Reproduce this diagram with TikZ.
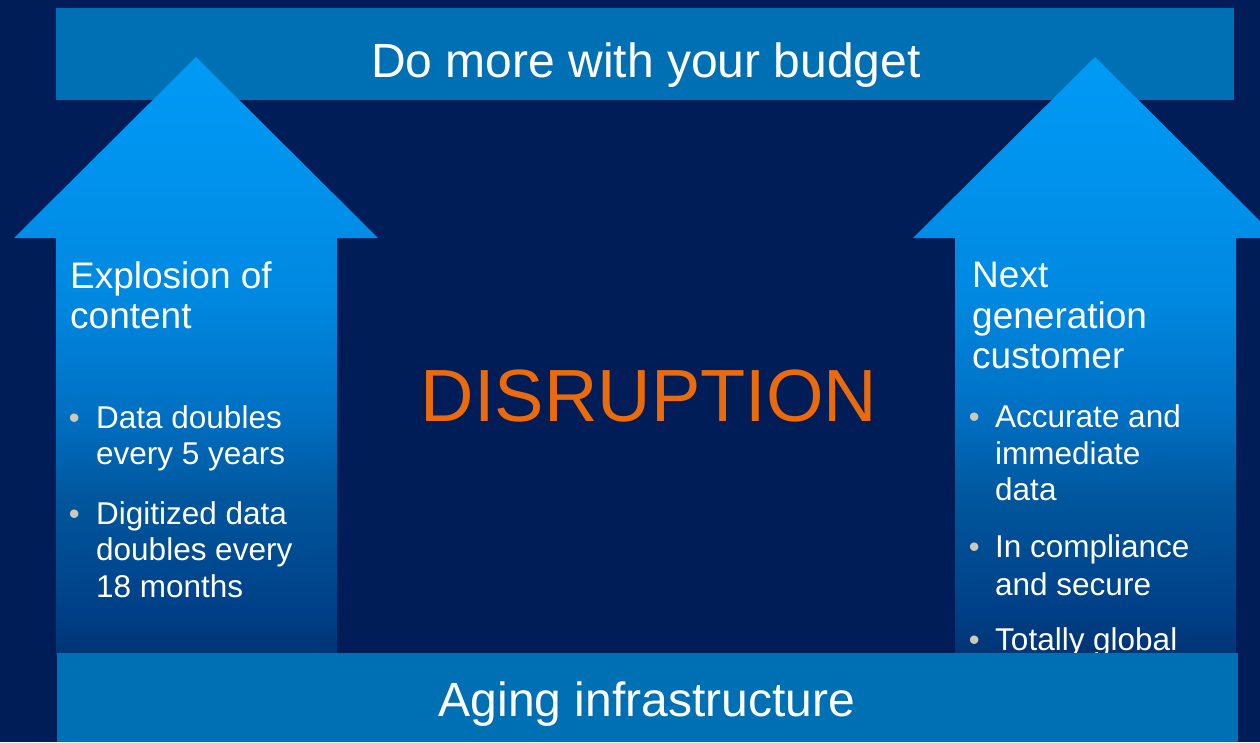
\documentclass[tikz,border=0pt]{standalone}
\usepackage{fontspec}
\setmainfont{Liberation Sans}
\definecolor{navy}{HTML}{001D57}
\definecolor{barblue}{HTML}{0070B4}
\definecolor{disrupt}{HTML}{EA6A0C}
\definecolor{dotgray}{HTML}{CCC8BB}
% arrow fill, from the foot (dark) up to the tip (bright)
\definecolor{af1}{HTML}{003474}
\definecolor{af2}{HTML}{00428A}
\definecolor{af3}{HTML}{00569C}
\definecolor{af4}{HTML}{006EC0}
\definecolor{af5}{HTML}{0088E0}
\definecolor{af6}{HTML}{0093EE}
\definecolor{af7}{HTML}{009AF4}
\pgfdeclareverticalshading{arrowfade}{100bp}{%
  color(0bp)=(af1); color(25bp)=(af1); color(29.6bp)=(af2); color(38bp)=(af3);
  color(44.6bp)=(af4); color(54.7bp)=(af5); color(65.8bp)=(af6);
  color(75bp)=(af7); color(100bp)=(af7)}
\tikzset{
  bar/.style={fill=barblue, draw=none},
  uparrow/.style={draw=none, shading=arrowfade},
  headline/.style={text=white, inner sep=0pt, anchor=base, font=\fontsize{48}{56}\selectfont},
  sidetitle/.style={text=white, inner sep=0pt, anchor=base west, font=\fontsize{37}{40}\selectfont},
  itemline/.style={text=white, inner sep=0pt, anchor=base west, font=\fontsize{31.5}{36}\selectfont},
  itemdot/.style={text=dotgray, inner sep=0pt, anchor=base west, font=\fontsize{31}{36}\selectfont},
}
\begin{document}
\begin{tikzpicture}[x=1pt, y=-1pt]
  % canvas
  \fill[navy] (0,0) rectangle (1260,742);
  \clip (0,0) rectangle (1260,742);

  % top band
  \fill[bar] (56,8) rectangle (1234,100);
  \node[headline] (budget) at (646,77) {Do more with your budget};

  % two upward block arrows
  \shade[uparrow] (56,655) -- (56,238) -- (14,238) -- (196,57) -- (378,238)
    -- (337,238) -- (337,655) -- cycle;
  \shade[uparrow] (955,655) -- (955,238) -- (913,238) -- (1095,57) -- (1277,238)
    -- (1236,238) -- (1236,655) -- cycle;

  % centre word
  \node[text=disrupt, inner sep=0pt, anchor=base, font=\fontsize{74}{80}\selectfont]
    (disruption) at (649,421) {DISRUPTION};

  % left arrow text
  \node[sidetitle] (lt1) at (70,288) {Explosion of};
  \node[sidetitle] (lt2) at (70,328) {content};
  \node[itemdot] (lb1) at (68.6,428) {•};
  \node[itemline] (la1) at (96,428) {Data doubles};
  \node[itemline] (la2) at (96,464) {every 5 years};
  \node[itemdot] (lb2) at (68.6,524) {•};
  \node[itemline] (la3) at (96,524) {Digitized data};
  \node[itemline] (la4) at (96,560) {doubles every};
  \node[itemline] (la5) at (96,597) {18 months};

  % right arrow text
  \node[sidetitle] (rt1) at (972,287) {Next};
  \node[sidetitle] (rt2) at (972,328) {generation};
  \node[sidetitle] (rt3) at (972,368) {customer};
  \node[itemdot] (rb1) at (968.6,427) {•};
  \node[itemline] (ra1) at (995,427) {Accurate and};
  \node[itemline] (ra2) at (995,464) {immediate};
  \node[itemline] (ra3) at (995,500) {data};
  \node[itemdot] (rb2) at (968.6,557) {•};
  \node[itemline] (ra4) at (995,557) {In compliance};
  \node[itemline] (ra5) at (995,595) {and secure};
  \node[itemdot] (rb3) at (968.6,650) {•};
  \node[itemline] (ra6) at (995,650) {Totally global};

  % bottom band, laid over the arrow feet
  \fill[bar] (57,653) rectangle (1238,742);
  \node[headline] (aging) at (647,716) {Aging infrastructure};
\end{tikzpicture}
\end{document}
